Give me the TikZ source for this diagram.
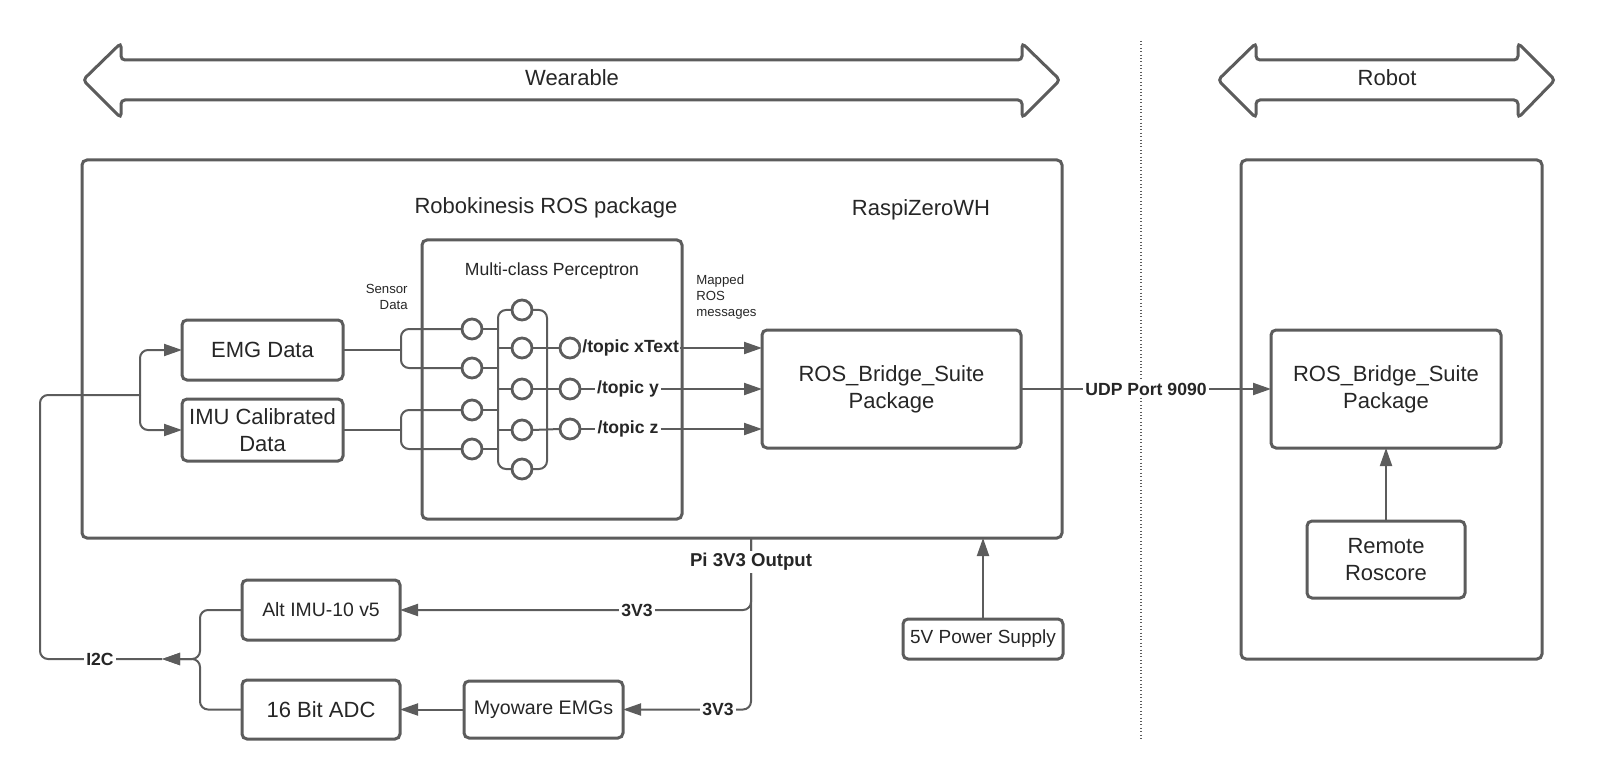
\documentclass[tikz,border=0pt]{standalone}
\usepackage{fontspec}
\setmainfont{Liberation Sans}
\usetikzlibrary{arrows.meta}
\definecolor{ln}{HTML}{5C5C5C}
\definecolor{tx}{HTML}{262626}
\begin{document}
\begin{tikzpicture}[x=0.5pt,y=-0.5pt,
 box/.style={draw=ln, line width=1.5pt, rounded corners=2.5pt, inner sep=1pt, outer sep=0pt, align=center, text=tx, font=\fontsize{11}{13.5}\selectfont},
 neuron/.style={draw=ln, line width=1.4pt, circle, minimum size=10pt, inner sep=0pt, outer sep=0pt, fill=white},
 conn/.style={draw=ln, line width=1pt},
 arr/.style={conn, -{Triangle[length=9pt,width=6pt]}},
 boldlbl/.style={font=\bfseries\fontsize{8.8}{10}\selectfont, text=tx, fill=white, inner sep=1pt},
 plain/.style={text=tx, font=\fontsize{11}{13.5}\selectfont, inner sep=1pt},
 small/.style={text=tx, font=\fontsize{6.6}{7.9}\selectfont, inner sep=0pt},
 bigarrow/.style={draw=ln, line width=1.5pt, rounded corners=2pt}
]
\useasboundingbox (0,0) rectangle (1598,780);

% block arrows
\draw[bigarrow] (83,80) -- (121,43) -- (121,60) -- (1022,60) -- (1022,43) -- (1060,80) -- (1022,118) -- (1022,100) -- (121,100) -- (121,118) -- cycle;
\node[plain] (wearlbl) at (572,78) {Wearable};
\draw[bigarrow] (1218,80) -- (1256,43) -- (1256,60) -- (1518,60) -- (1518,43) -- (1555,80) -- (1518,118) -- (1518,100) -- (1256,100) -- (1256,118) -- cycle;
\node[plain] (robotlbl) at (1387,78) {Robot};

% dotted separator
\coordinate (dtop) at (1141,41);
\coordinate (dbot) at (1141,739);
\draw[draw=ln, line width=0.7pt, dash pattern=on 0.5pt off 1.2pt] (dtop) -- (dbot);

% containers
\node[box, minimum width=490pt, minimum height=189pt] (wear) at (572,349) {};
\node[box, minimum width=150.5pt, minimum height=249.5pt] (robotbox) at (1391.5,409.5) {};
\node[box, minimum width=130pt, minimum height=139.5pt] (perc) at (552,379.5) {};

\node[plain] (robokin) at (546,208) {Robokinesis ROS package};
\node[plain] (raspi) at (921,210) {RaspiZeroWH};
\node[text=tx, font=\fontsize{8.8}{10}\selectfont] (perclbl) at (552,271) {Multi-class Perceptron};
\node[small, align=right, anchor=east] (sensorlbl) at (408,297) {Sensor\\Data};
\node[small, align=left, anchor=west] (mappedlbl) at (696,297) {Mapped\\ROS\\messages};

% boxes
\node[box, minimum width=80.5pt, minimum height=30pt] (emg) at (262.5,350) {EMG Data};
\node[box, minimum width=80.5pt, minimum height=31pt] (imu) at (262.5,430) {IMU Calibrated\\Data};
\node[box, minimum width=79pt, minimum height=30pt, font=\fontsize{9.7}{11}\selectfont] (altimu) at (321,610) {Alt IMU-10 v5};
\node[box, minimum width=79pt, minimum height=29.5pt] (adc) at (321,709.5) {16 Bit ADC};
\node[box, minimum width=79.5pt, minimum height=28.5pt, font=\fontsize{9.8}{11}\selectfont] (myo) at (543.5,709.5) {Myoware EMGs};
\node[box, minimum width=80pt, minimum height=20pt, font=\fontsize{9.5}{11}\selectfont] (psu) at (983,639) {5V Power Supply};
\node[box, minimum width=129.5pt, minimum height=59pt] (rosL) at (891.5,389) {ROS\_Bridge\_Suite\\Package};
\node[box, minimum width=115pt, minimum height=59pt] (rosR) at (1386,389) {ROS\_Bridge\_Suite\\Package};
\node[box, minimum width=79pt, minimum height=38.5pt] (remote) at (1386,559.5) {Remote\\Roscore};

% neurons
\node[neuron] (l11) at (472,329) {};
\node[neuron] (l12) at (472,368) {};
\node[neuron] (l13) at (472,410) {};
\node[neuron] (l14) at (472,449) {};
\node[neuron] (l21) at (522,310) {};
\node[neuron] (l22) at (522,348) {};
\node[neuron] (l23) at (522,389) {};
\node[neuron] (l24) at (522,430) {};
\node[neuron] (l25) at (522,469) {};
\node[neuron] (l31) at (570,348) {};
\node[neuron] (l32) at (570,389) {};
\node[neuron] (l33) at (570,429) {};

% sensor braces
\coordinate (b1) at (401,350);
\coordinate (b2) at (401,430);
\draw[conn] (emg.east) -- (b1);
\draw[conn, rounded corners=4pt] (b1) |- (l11.west);
\draw[conn, rounded corners=4pt] (b1) |- (l12.west);
\draw[conn] (imu.east) -- (b2);
\draw[conn, rounded corners=4pt] (b2) |- (l13.west);
\draw[conn, rounded corners=4pt] (b2) |- (l14.west);

% layer 1 -> layer 2
\coordinate (v1) at (498,389);
\draw[conn, rounded corners=4pt] (l21.west) -| (v1) |- (l25.west);
\draw[conn] (l11.east) -- (l11.east -| v1);
\draw[conn] (l12.east) -- (l12.east -| v1);
\draw[conn] (l13.east) -- (l13.east -| v1);
\draw[conn] (l14.east) -- (l14.east -| v1);
\draw[conn] (l22.west -| v1) -- (l22.west);
\draw[conn] (l23.west -| v1) -- (l23.west);
\draw[conn] (l24.west -| v1) -- (l24.west);

% layer 2 -> layer 3
\coordinate (v2) at (547,389);
\draw[conn, rounded corners=4pt] (l21.east) -| (v2) |- (l25.east);
\draw[conn] (l22.east) -- (l31.west);
\draw[conn] (l23.east) -- (l32.west);
\draw[conn] (l24.east) -- (l33.west);

% topics
\node[boldlbl, inner sep=0.5pt, anchor=west] (t1) at (581,348) {/topic xText};
\node[boldlbl] (t2) at (628,389) {/topic y};
\node[boldlbl] (t3) at (628,429) {/topic z};
\draw[conn] (l31.east) -- (t1.west);
\draw[conn] (l32.east) -- (t2.west);
\draw[conn] (l33.east) -- (t3.west);
\draw[arr] (t1.east) -- (rosL.west |- t1.east);
\draw[arr] (t2.east) -- (rosL.west |- t2.east);
\draw[arr] (t3.east) -- (rosL.west |- t3.east);

% UDP link
\draw[arr] (rosL.east) -- node[boldlbl] (udp) {UDP Port 9090} (rosR.west);
\draw[arr] (remote.north) -- (rosR.south);

% power
\draw[arr] (psu.north) -- (psu.north |- wear.south);
\coordinate (pi) at (751,538);
\draw[arr, rounded corners=4pt] (pi) |- (myo.east);
\draw[arr, rounded corners=4pt] (pi) |- (altimu.east);
\node[boldlbl, font=\bfseries\fontsize{9.3}{11}\selectfont] (pilbl) at (751,562) {Pi 3V3 Output};
\node[boldlbl] (v3a) at (637,610) {3V3};
\node[boldlbl] (v3b) at (718,709.5) {3V3};
\draw[arr] (myo.west) -- (adc.east);

% I2C bus
\coordinate (i2c) at (162,659);
\coordinate (ifork) at (200,659);
\coordinate (lup) at (40,395);
\coordinate (split) at (140,395);
\draw[arr, rounded corners=4pt] (altimu.west) -| (ifork) -- (i2c);
\draw[arr, rounded corners=4pt] (adc.west) -| (ifork) -- (i2c);
\draw[conn, rounded corners=4pt] (i2c) -| (lup) -- (split);
\draw[arr, rounded corners=4pt] (split) |- (emg.west);
\draw[arr, rounded corners=4pt] (split) |- (imu.west);
\node[boldlbl] (i2clbl) at (100,659) {I2C};
\end{tikzpicture}
\end{document}
